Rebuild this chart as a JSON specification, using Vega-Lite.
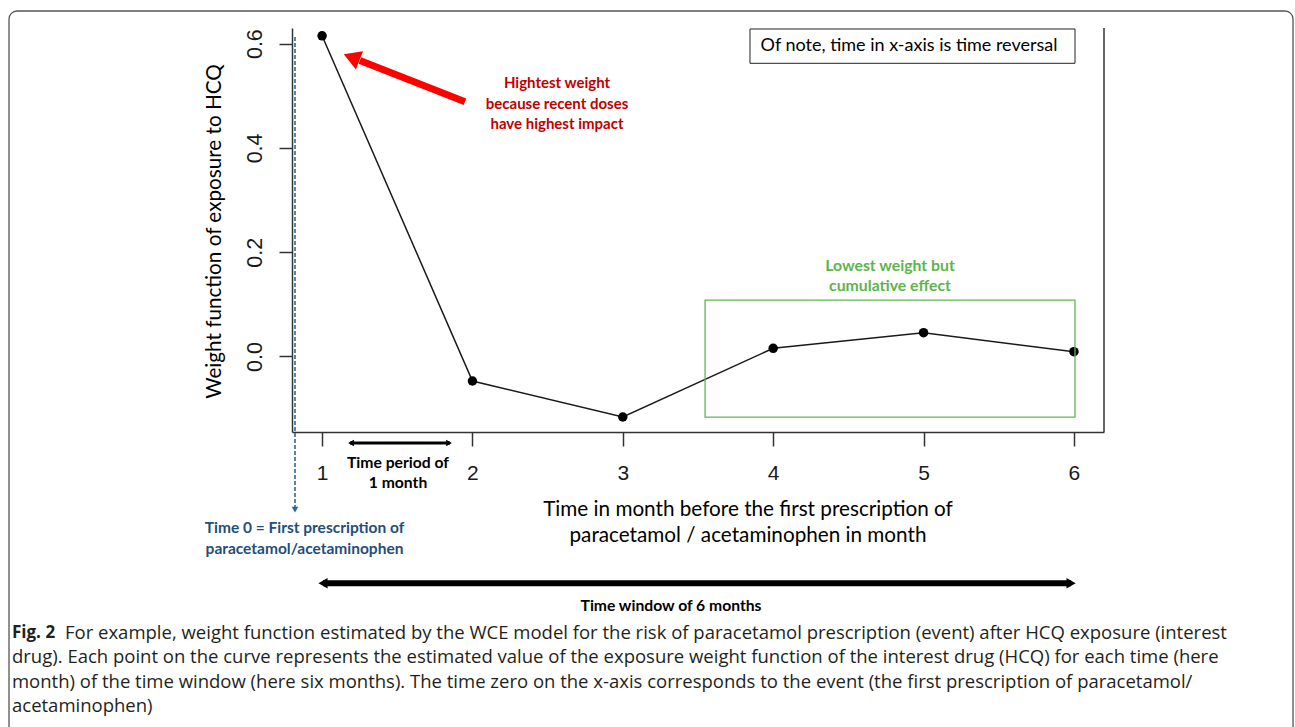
{
  "$schema": "https://vega.github.io/schema/vega-lite/v6.json",
  "width": 812,
  "height": 404,
  "autosize": {"type": "none"},
  "padding": {"left": 292, "top": 28, "right": 191, "bottom": 295},
  "background": "white",
  "config": {"view": {"stroke": null}},
  "layer": [
    {
      "data": {"values": [
        {"month": 1, "weight": 0.615},
        {"month": 2, "weight": -0.047},
        {"month": 3, "weight": -0.116},
        {"month": 4, "weight": 0.0157},
        {"month": 5, "weight": 0.0456},
        {"month": 6, "weight": 0.0092}
      ]},
      "layer": [
        {"mark": {"type": "line", "color": "#1a1a1a", "strokeWidth": 1.5}},
        {"mark": {"type": "point", "filled": true, "color": "#000000", "size": 90, "opacity": 1}}
      ],
      "encoding": {
        "x": {
          "field": "month", "type": "quantitative",
          "scale": {"domain": [0.8, 6.2], "nice": false, "zero": false},
          "axis": {
            "values": [1, 2, 3, 4, 5, 6], "format": "d", "grid": false, "title": "",
            "domainColor": "#333333", "domainWidth": 1.5,
            "tickColor": "#333333", "tickWidth": 1.5, "tickSize": 14,
            "labelFont": "Liberation Sans", "labelFontSize": 21, "labelColor": "#1a1a1a",
            "labelPadding": 16, "labelBaseline": "top", "labelAlign": "center"
          }
        },
        "y": {
          "field": "weight", "type": "quantitative",
          "scale": {"domain": [-0.1448, 0.63], "nice": false, "zero": false},
          "axis": {
            "values": [0, 0.2, 0.4, 0.6], "format": ".1f", "grid": false,
            "domainColor": "#333333", "domainWidth": 1.5,
            "tickColor": "#333333", "tickWidth": 1.5, "tickSize": 13,
            "labelFont": "Liberation Sans", "labelFontSize": 21.5, "labelColor": "#1a1a1a",
            "labelAngle": 270, "labelAlign": "center", "labelBaseline": "alphabetic", "labelPadding": 18,
            "title": "Weight function of exposure to HCQ",
            "titleFont": "Lato", "titleFontSize": 20.7, "titleFontWeight": "normal", "titleColor": "#000000",
            "titleAngle": 270, "titleAlign": "center", "titleBaseline": "alphabetic",
            "titleX": -72, "titleY": 203
          }
        }
      }
    },
    {
      "data": {"values": [{"x1": -1.082, "x2": 7.457, "y1": 0.6626, "y2": -0.7356}]},
      "mark": {"type": "rect", "filled": false, "color": "#555555", "strokeWidth": 1.3, "cornerRadius": 8},
      "encoding": {
        "x": {"field": "x1", "type": "quantitative"},
        "x2": {"field": "x2"},
        "y": {"field": "y1", "type": "quantitative"},
        "y2": {"field": "y2"}
      }
    },
    {
      "data": {"values": [{"x": 6.2, "y1": -0.1448, "y2": 0.63}]},
      "mark": {"type": "rule", "color": "#333333", "strokeWidth": 1.5},
      "encoding": {
        "x": {"field": "x", "type": "quantitative"},
        "y": {"field": "y1", "type": "quantitative"},
        "y2": {"field": "y2"}
      }
    },
    {
      "data": {"values": [{"x1": 3.547, "x2": 6.007, "y1": 0.1083, "y2": -0.1161}]},
      "mark": {"type": "rect", "filled": false, "color": "#62b553", "strokeWidth": 1.3},
      "encoding": {
        "x": {"field": "x1", "type": "quantitative"},
        "x2": {"field": "x2"},
        "y": {"field": "y1", "type": "quantitative"},
        "y2": {"field": "y2"}
      }
    },
    {
      "data": {"values": [{"x1": 3.8458, "x2": 6.0072, "y1": 0.6281, "y2": 0.5623}]},
      "mark": {"type": "rect", "filled": false, "color": "#222222", "strokeWidth": 1},
      "encoding": {
        "x": {"field": "x1", "type": "quantitative"},
        "x2": {"field": "x2"},
        "y": {"field": "y1", "type": "quantitative"},
        "y2": {"field": "y2"}
      }
    },
    {
      "data": {"values": [{"x1": 1.9505, "y1": 0.4887, "x2": 1.2512, "y2": 0.5677}]},
      "mark": {"type": "rule", "color": "#ff0000", "strokeWidth": 7, "strokeCap": "butt"},
      "encoding": {
        "x": {"field": "x1", "type": "quantitative"},
        "y": {"field": "y1", "type": "quantitative"},
        "x2": {"field": "x2"},
        "y2": {"field": "y2"}
      }
    },
    {
      "data": {"values": [{"x": 1.1964, "y": 0.5739}]},
      "mark": {"type": "point", "shape": "triangle-up", "angle": 291.4, "size": 380, "filled": true, "color": "#ff0000", "opacity": 1},
      "encoding": {
        "x": {"field": "x", "type": "quantitative"},
        "y": {"field": "y", "type": "quantitative"}
      }
    },
    {
      "data": {"values": [{"x": 0.82, "y1": 0.6127, "y2": -0.2906}]},
      "mark": {"type": "rule", "color": "#2f6699", "strokeWidth": 1.6, "strokeDash": [4, 2]},
      "encoding": {
        "x": {"field": "x", "type": "quantitative"},
        "y": {"field": "y1", "type": "quantitative"},
        "y2": {"field": "y2"}
      }
    },
    {
      "data": {"values": [{"x": 0.82, "y": -0.2935}]},
      "mark": {"type": "point", "shape": "triangle-down", "size": 45, "filled": true, "color": "#2f6699", "opacity": 1},
      "encoding": {
        "x": {"field": "x", "type": "quantitative"},
        "y": {"field": "y", "type": "quantitative"}
      }
    },
    {
      "data": {"values": [{"x1": 1.1857, "x2": 1.8508, "y": -0.1659}]},
      "mark": {"type": "rule", "color": "#000000", "strokeWidth": 3},
      "encoding": {
        "x": {"field": "x1", "type": "quantitative"},
        "x2": {"field": "x2"},
        "y": {"field": "y", "type": "quantitative"}
      }
    },
    {
      "data": {"values": [{"x": 1.1924, "y": -0.1659}]},
      "mark": {"type": "point", "shape": "triangle-left", "size": 45, "filled": true, "color": "#000000", "opacity": 1},
      "encoding": {
        "x": {"field": "x", "type": "quantitative"},
        "y": {"field": "y", "type": "quantitative"}
      }
    },
    {
      "data": {"values": [{"x": 1.8441, "y": -0.1659}]},
      "mark": {"type": "point", "shape": "triangle-right", "size": 45, "filled": true, "color": "#000000", "opacity": 1},
      "encoding": {
        "x": {"field": "x", "type": "quantitative"},
        "y": {"field": "y", "type": "quantitative"}
      }
    },
    {
      "data": {"values": [{"x1": 1.0062, "x2": 5.981, "y": -0.435}]},
      "mark": {"type": "rule", "color": "#000000", "strokeWidth": 6},
      "encoding": {
        "x": {"field": "x1", "type": "quantitative"},
        "x2": {"field": "x2"},
        "y": {"field": "y", "type": "quantitative"}
      }
    },
    {
      "data": {"values": [{"x": 1.0062, "y": -0.435}]},
      "mark": {"type": "point", "shape": "triangle-left", "size": 110, "filled": true, "color": "#000000", "opacity": 1},
      "encoding": {
        "x": {"field": "x", "type": "quantitative"},
        "y": {"field": "y", "type": "quantitative"}
      }
    },
    {
      "data": {"values": [{"x": 5.981, "y": -0.435}]},
      "mark": {"type": "point", "shape": "triangle-right", "size": 110, "filled": true, "color": "#000000", "opacity": 1},
      "encoding": {
        "x": {"field": "x", "type": "quantitative"},
        "y": {"field": "y", "type": "quantitative"}
      }
    },
    {
      "data": {"values": [
        {"x": 2.5623, "y": 0.5245, "label": "Hightest weight"},
        {"x": 2.5623, "y": 0.4842, "label": "because recent doses"},
        {"x": 2.5623, "y": 0.4459, "label": "have highest impact"}
      ]},
      "mark": {"type": "text", "font": "Lato", "fontSize": 15, "fontWeight": "bold", "color": "#c00000", "align": "center", "baseline": "middle"},
      "encoding": {
        "x": {"field": "x", "type": "quantitative"},
        "y": {"field": "y", "type": "quantitative"},
        "text": {"field": "label"}
      }
    },
    {
      "data": {"values": [
        {"x": 4.777, "y": 0.1735, "label": "Lowest weight but"},
        {"x": 4.777, "y": 0.1352, "label": "cumulative effect"}
      ]},
      "mark": {"type": "text", "font": "Lato", "fontSize": 15.8, "fontWeight": "bold", "color": "#5cb54c", "align": "center", "baseline": "middle"},
      "encoding": {
        "x": {"field": "x", "type": "quantitative"},
        "y": {"field": "y", "type": "quantitative"},
        "text": {"field": "label"}
      }
    },
    {
      "data": {"values": [
        {"x": 0.8831, "y": -0.329, "label": "Time 0 = First prescription of"},
        {"x": 0.8831, "y": -0.3692, "label": "paracetamol/acetaminophen"}
      ]},
      "mark": {"type": "text", "font": "Lato", "fontSize": 15.5, "fontWeight": "bold", "color": "#1f4e79", "align": "center", "baseline": "middle"},
      "encoding": {
        "x": {"field": "x", "type": "quantitative"},
        "y": {"field": "y", "type": "quantitative"},
        "text": {"field": "label"}
      }
    },
    {
      "data": {"values": [
        {"x": 1.5049, "y": -0.2049, "label": "Time period of"},
        {"x": 1.5049, "y": -0.2432, "label": "1 month"},
        {"x": 3.3205, "y": -0.4786, "label": "Time window of 6 months"}
      ]},
      "mark": {"type": "text", "font": "Lato", "fontSize": 15.7, "fontWeight": "bold", "color": "#000000", "align": "center", "baseline": "middle"},
      "encoding": {
        "x": {"field": "x", "type": "quantitative"},
        "y": {"field": "y", "type": "quantitative"},
        "text": {"field": "label"}
      }
    },
    {
      "data": {"values": [
        {"x": 4.9032, "y": 0.5955, "label": "Of note, time in x-axis is time reversal"}
      ]},
      "mark": {"type": "text", "font": "Lato", "fontSize": 18, "color": "#000000", "align": "center", "baseline": "middle"},
      "encoding": {
        "x": {"field": "x", "type": "quantitative"},
        "y": {"field": "y", "type": "quantitative"},
        "text": {"field": "label"}
      }
    },
    {
      "data": {"values": [
        {"x": 3.8325, "y": -0.2944, "label": "Time in month before the first prescription of"},
        {"x": 3.8325, "y": -0.3443, "label": "paracetamol / acetaminophen in month"}
      ]},
      "mark": {"type": "text", "font": "Lato", "fontSize": 20.7, "color": "#000000", "align": "center", "baseline": "middle"},
      "encoding": {
        "x": {"field": "x", "type": "quantitative"},
        "y": {"field": "y", "type": "quantitative"},
        "text": {"field": "label"}
      }
    },
    {
      "data": {"values": [
        {"x": -1.0621, "y": -0.5303, "label": "Fig. 2"}
      ]},
      "mark": {"type": "text", "font": "Open Sans", "fontSize": 17, "fontWeight": "bold", "color": "#231f20", "align": "left", "baseline": "middle"},
      "encoding": {
        "x": {"field": "x", "type": "quantitative"},
        "y": {"field": "y", "type": "quantitative"},
        "text": {"field": "label"}
      }
    },
    {
      "data": {"values": [
        {"x": -0.7096, "y": -0.5303, "label": "For example, weight function estimated by the WCE model for the risk of paracetamol prescription (event) after HCQ exposure (interest"},
        {"x": -1.0621, "y": -0.5764, "label": "drug). Each point on the curve represents the estimated value of the exposure weight function of the interest drug (HCQ) for each time (here"},
        {"x": -1.0621, "y": -0.6243, "label": "month) of the time window (here six months). The time zero on the x-axis corresponds to the event (the first prescription of paracetamol/"},
        {"x": -1.0621, "y": -0.6703, "label": "acetaminophen)"}
      ]},
      "mark": {"type": "text", "font": "Open Sans", "fontSize": 18.5, "color": "#231f20", "align": "left", "baseline": "middle"},
      "encoding": {
        "x": {"field": "x", "type": "quantitative"},
        "y": {"field": "y", "type": "quantitative"},
        "text": {"field": "label"}
      }
    }
  ]
}
